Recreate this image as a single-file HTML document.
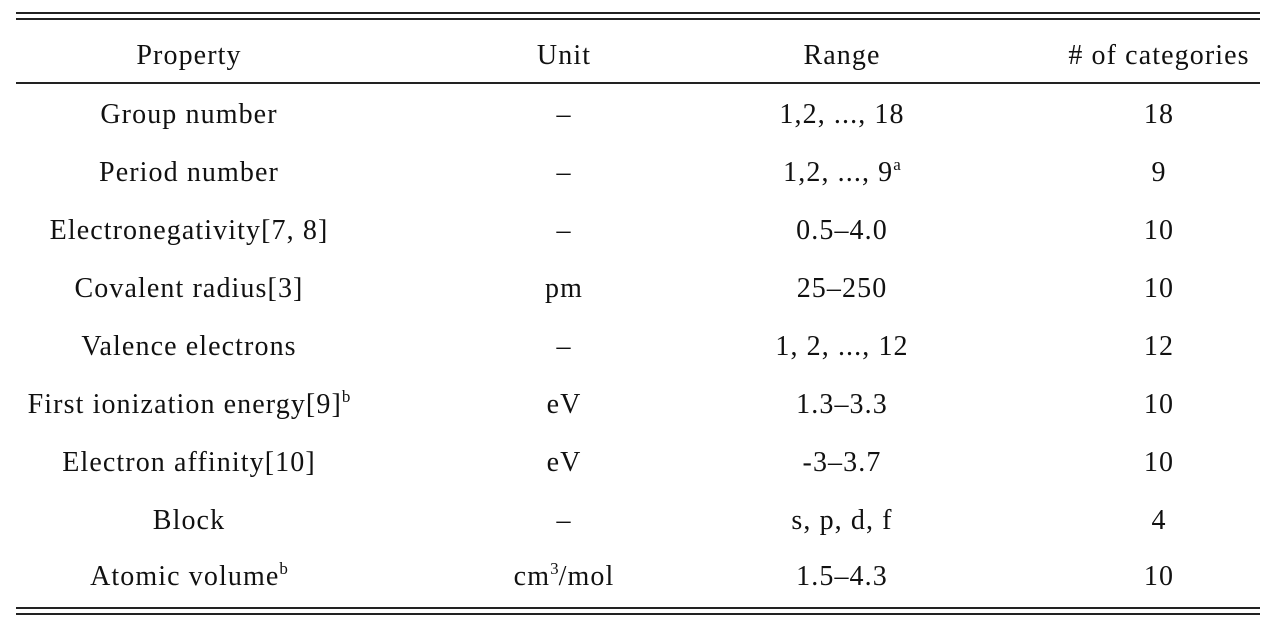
<!DOCTYPE html>
<html><head><meta charset="utf-8"><style>
body{margin:0;background:#fff;width:1274px;height:628px;position:relative;overflow:hidden;font-family:"Liberation Serif",serif;color:#111;}
.r{position:absolute;background:#222;height:1.5px;left:16px;width:1244px}
.t{position:absolute;font-size:28px;letter-spacing:1.1px;white-space:nowrap;transform:translate(-50%,-50%);line-height:1}
sup{font-size:17px;vertical-align:0;position:relative;top:-11px;letter-spacing:0}
</style></head><body>
<div class="r" style="top:12px"></div>
<div class="r" style="top:18px"></div>
<div class="r" style="top:82px"></div>
<div class="r" style="top:607px"></div>
<div class="r" style="top:613px"></div>
<div id="c"></div>
<script>
const rows=[
["Property","Unit","Range","# of categories"],
["Group number","–","1,2, ..., 18","18"],
["Period number","–","1,2, ..., 9<sup>a</sup>","9"],
["Electronegativity[7, 8]","–","0.5–4.0","10"],
["Covalent radius[3]","pm","25–250","10"],
["Valence electrons","–","1, 2, ..., 12","12"],
["First ionization energy[9]<sup>b</sup>","eV","1.3–3.3","10"],
["Electron affinity[10]","eV","-3–3.7","10"],
["Block","–","s, p, d, f","4"],
["Atomic volume<sup>b</sup>","cm<sup>3</sup>/mol","1.5–4.3","10"]];
const xs=[189,564,842,1159];
const ys=[56,115,173,231,289,347,405,463,521,577];
const c=document.getElementById('c');
rows.forEach((r,i)=>r.forEach((v,j)=>{
 const d=document.createElement('div');d.className='t';
 
 
 d.style.left=xs[j]+'px';d.style.top=ys[i]+'px';d.innerHTML=v;c.appendChild(d);}));
</script>
</body></html>
